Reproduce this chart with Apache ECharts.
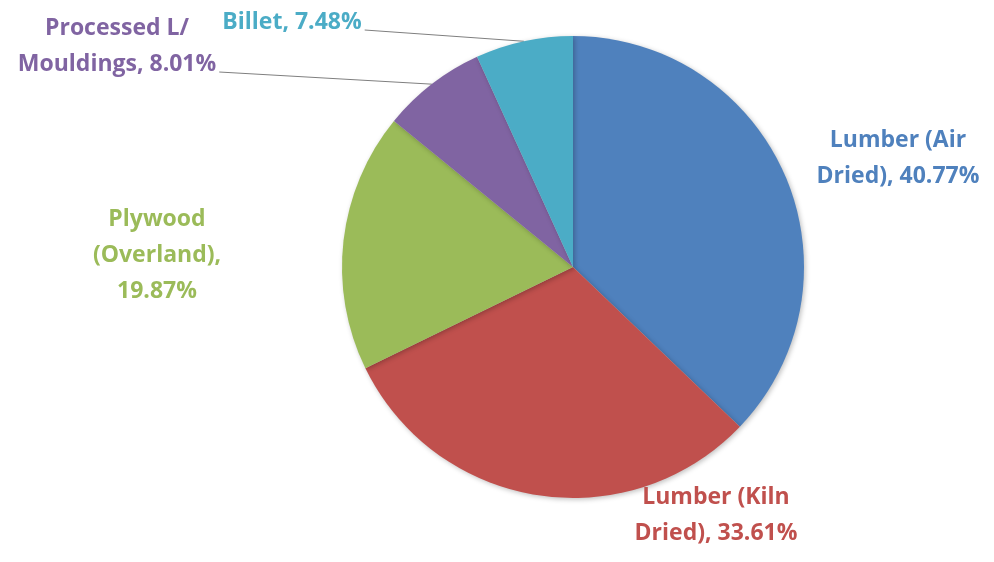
<!DOCTYPE html>
<html>
<head>
<meta charset="utf-8">
<script src="https://cdn.jsdelivr.net/npm/echarts@6/dist/echarts.min.js"></script>
<style>
html,body{margin:0;padding:0;background:#fff;}
#chart{width:994px;height:562px;}
</style>
</head>
<body>
<div id="chart"></div>
<script>
// ---- data ----
const categories = ['Lumber (Air Dried)', 'Lumber (Kiln Dried)', 'Plywood (Overland)', 'Processed L/ Mouldings', 'Billet'];
const values = [40.77, 33.61, 19.87, 8.01, 7.48];
const labelNames = ['Lumber (Air\nDried)', 'Lumber (Kiln\nDried)', 'Plywood\n(Overland)', 'Processed L/\nMouldings', 'Billet'];
const labelSeparators = [', ', ', ', ',\n', ', ', ', '];
const colors = ['#4F81BD', '#C0504D', '#9BBB59', '#8064A2', '#4BACC6'];
const showLeader = [false, false, false, true, true];

// ---- label placement (layout, not data) ----
const labelPos = [
  [898, 158],
  [716, 515],
  [157, 255],
  [117, 46],
  [292, 22]
];

const chart = echarts.init(document.getElementById('chart'));
chart.setOption({
  animation: false,
  series: [{
    type: 'pie',
    center: [573, 267],
    radius: 231,
    startAngle: 90,
    clockwise: true,
    avoidLabelOverlap: false,
    data: categories.map((n, i) => ({
      name: n,
      value: values[i],
      itemStyle: { color: colors[i] },
      label: { color: colors[i] },
      labelLine: { show: showLeader[i] }
    })),
    itemStyle: {
      borderWidth: 0,
      shadowBlur: 5,
      shadowOffsetX: 1.5,
      shadowOffsetY: 1.5,
      shadowColor: 'rgba(0,0,0,0.25)'
    },
    label: {
      show: true,
      position: 'outside',
      fontFamily: 'Open Sans',
      fontWeight: 'bold',
      fontSize: 23,
      lineHeight: 36,
      align: 'center',
      formatter: p => labelNames[p.dataIndex] + labelSeparators[p.dataIndex] + p.value.toFixed(2) + '%'
    },
    labelLine: {
      lineStyle: { color: '#7f7f7f', width: 1 },
      smooth: false
    },
    labelLayout: function (params) {
      const i = params.dataIndex;
      const x = labelPos[i][0], y = labelPos[i][1];
      const w = params.labelRect.width, h = params.labelRect.height;
      const out = { x: x, y: y, align: 'center', verticalAlign: 'middle' };
      if (showLeader[i] && params.labelLinePoints) {
        const start = params.labelLinePoints[0];
        out.labelLinePoints = [start, [x + w / 2 + 3, y + h / 2 - 10]];
      }
      return out;
    }
  }]
});
</script>
</body>
</html>
